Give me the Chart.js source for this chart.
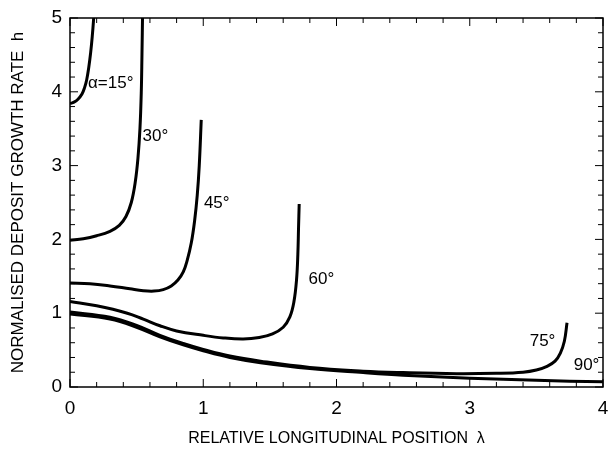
<!DOCTYPE html>
<html>
<head>
<meta charset="utf-8">
<script src="https://cdn.jsdelivr.net/npm/chart.js@4"></script>
<style>
  html, body { margin: 0; padding: 0; background: #fff; }
  #wrap { width: 610px; height: 452px; }
</style>
</head>
<body>
<div id="wrap"><canvas id="growthChart"></canvas></div>
<script>
// curve data: lambda (x) and h (y) per angle
const lam15 = [0, 0.03, 0.06, 0.09, 0.11, 0.125, 0.14, 0.155, 0.167, 0.177, 0.185];
const h15   = [3.84, 3.86, 3.90, 3.97, 4.06, 4.16, 4.32, 4.53, 4.75, 4.98, 5.2];

const lam30 = [0, 0.1, 0.2, 0.3, 0.37, 0.42, 0.46, 0.49, 0.51, 0.525, 0.535, 0.54, 0.545];
const h30   = [1.99, 2.01, 2.05, 2.11, 2.19, 2.31, 2.50, 2.78, 3.10, 3.5, 4.0, 4.5, 5.1];

const lam45 = [0, 0.15, 0.3, 0.45, 0.55, 0.63, 0.70, 0.76, 0.81, 0.85, 0.88, 0.91, 0.935, 0.955, 0.97, 0.985];
const h45   = [1.41, 1.40, 1.37, 1.33, 1.305, 1.30, 1.32, 1.37, 1.45, 1.56, 1.72, 1.95, 2.25, 2.6, 3.0, 3.62];

const lam60 = [0, 0.2, 0.43, 0.55, 0.675, 0.8, 1.0, 1.15, 1.3, 1.42, 1.52, 1.6, 1.65, 1.68, 1.70, 1.71, 1.715, 1.72];
const h60   = [1.16, 1.10, 1.0, 0.92, 0.83, 0.76, 0.70, 0.665, 0.65, 0.67, 0.72, 0.81, 0.95, 1.15, 1.45, 1.8, 2.15, 2.48];

const lam75 = [0, 0.3, 0.5, 0.675, 0.85, 1.0, 1.2, 1.43, 1.8, 2.2, 2.5, 2.9, 3.2, 3.4, 3.5, 3.58, 3.64, 3.68, 3.71, 3.73];
const h75   = [1.015, 0.945, 0.835, 0.70, 0.59, 0.51, 0.42, 0.35, 0.265, 0.215, 0.195, 0.18, 0.185, 0.20, 0.23, 0.28, 0.35, 0.46, 0.62, 0.87];

const lam90 = [0, 0.3, 0.5, 0.675, 0.85, 1.0, 1.2, 1.43, 1.8, 2.2, 2.5, 3.0, 3.5, 4.0];
const h90   = [0.99, 0.92, 0.81, 0.68, 0.57, 0.49, 0.40, 0.33, 0.25, 0.195, 0.16, 0.12, 0.09, 0.07];

const curveNames = ['15', '30', '45', '60', '75', '90'];
const curveLam = [lam15, lam30, lam45, lam60, lam75, lam90];
const curveH = [h15, h30, h45, h60, h75, h90];

// curve labels: text, left x, centre y (data units)
const labelText = ['\u03b1=15\u00b0', '30\u00b0', '45\u00b0', '60\u00b0', '75\u00b0', '90\u00b0'];
const labelLam  = [0.135, 0.545, 1.005, 1.79, 3.45, 3.78];
const labelH    = [4.12, 3.40, 2.49, 1.46, 0.62, 0.30];

const xTicks = [0, 1, 2, 3, 4];
const yTicks = [0, 1, 2, 3, 4, 5];

const FONT = 'Liberation Sans, Arial, Helvetica, sans-serif';

const datasets = curveNames.map((name, i) => ({
  label: name,
  data: curveLam[i].map((x, j) => ({ x: x, y: curveH[i][j] })),
  showLine: true,
  borderColor: '#000',
  borderWidth: 3,
  pointRadius: 0,
  fill: false,
  tension: 0.4
}));

// inward ticks on all four sides plus the box
const boxTicks = {
  id: 'boxTicks',
  afterDraw(chart) {
    const ctx = chart.ctx;
    const xs = chart.scales.x, ys = chart.scales.y;
    const a = chart.chartArea;
    ctx.save();
    ctx.strokeStyle = '#000';
    ctx.lineWidth = 1.5;
    ctx.strokeRect(a.left, a.top, a.right - a.left, a.bottom - a.top);
    ctx.lineWidth = 1;
    for (let k = 0; k <= 20; k++) {
      const px = xs.getPixelForValue(k * 0.2);
      const len = k % 5 === 0 ? 8 : 5;
      ctx.beginPath();
      ctx.moveTo(px, a.bottom); ctx.lineTo(px, a.bottom - len);
      ctx.moveTo(px, a.top); ctx.lineTo(px, a.top + len);
      ctx.stroke();
    }
    for (let k = 0; k <= 25; k++) {
      const py = ys.getPixelForValue(k * 0.2);
      const len = k % 5 === 0 ? 8 : 5;
      ctx.beginPath();
      ctx.moveTo(a.left, py); ctx.lineTo(a.left + len, py);
      ctx.moveTo(a.right, py); ctx.lineTo(a.right - len, py);
      ctx.stroke();
    }
    ctx.restore();
  }
};

const curveLabels = {
  id: 'curveLabels',
  afterDatasetsDraw(chart) {
    const ctx = chart.ctx;
    const xs = chart.scales.x, ys = chart.scales.y;
    ctx.save();
    ctx.fillStyle = '#000';
    ctx.font = '17px ' + FONT;
    ctx.textAlign = 'left';
    ctx.textBaseline = 'middle';
    labelText.forEach((t, i) => {
      ctx.fillText(t, xs.getPixelForValue(labelLam[i]), ys.getPixelForValue(labelH[i]));
    });
    ctx.restore();
  }
};

new Chart(document.getElementById('growthChart').getContext('2d'), {
  type: 'scatter',
  data: { datasets: datasets },
  options: {
    responsive: true,
    maintainAspectRatio: false,
    animation: false,
    layout: { padding: { left: 0, right: 7, top: 18, bottom: 0 } },
    plugins: { legend: { display: false }, tooltip: { enabled: false } },
    scales: {
      x: {
        type: 'linear', min: 0, max: 4,
        afterBuildTicks: s => { s.ticks = xTicks.map(v => ({ value: v })); },
        afterFit: s => { s.height = 65; s.paddingLeft = 0; s.paddingRight = 0; },
        grid: { display: false, drawTicks: false },
        border: { display: false },
        ticks: { color: '#000', font: { family: FONT, size: 19 }, padding: 10, maxRotation: 0 },
        title: { display: true, text: 'RELATIVE LONGITUDINAL POSITION  \u03bb', color: '#000',
                 font: { family: FONT, size: 16 }, padding: { top: 4 } }
      },
      y: {
        type: 'linear', min: 0, max: 5,
        afterBuildTicks: s => { s.ticks = yTicks.map(v => ({ value: v })); },
        afterFit: s => { s.width = 70; s.paddingTop = 0; s.paddingBottom = 0; },
        grid: { display: false, drawTicks: false },
        border: { display: false },
        ticks: { color: '#000', font: { family: FONT, size: 19 }, padding: 8 },
        title: { display: true, text: 'NORMALISED DEPOSIT GROWTH RATE  h', color: '#000',
                 font: { family: FONT, size: 17 }, padding: { top: 8, bottom: 0 } }
      }
    }
  },
  plugins: [boxTicks, curveLabels]
});
</script>
</body>
</html>
